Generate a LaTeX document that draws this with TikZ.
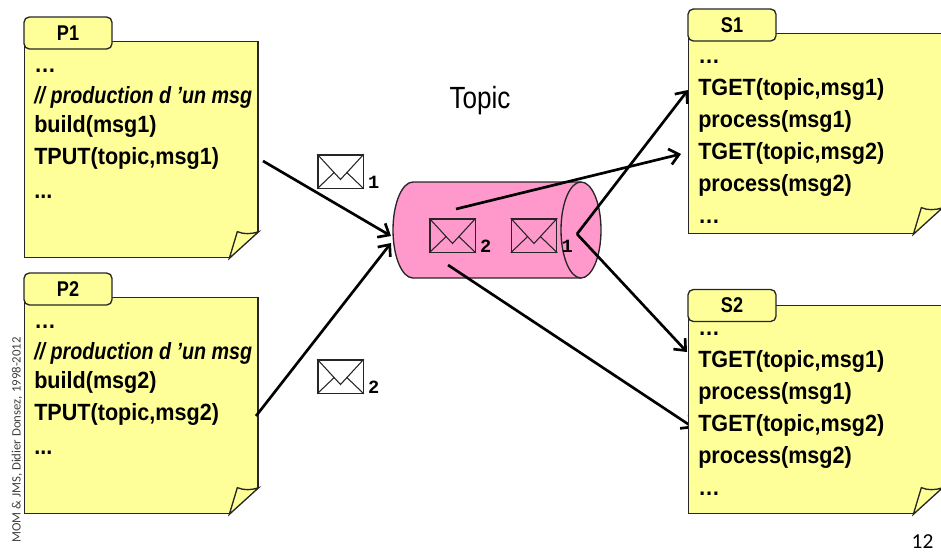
\documentclass[tikz,border=0pt]{standalone}
\usepackage{fontspec}
\setmainfont{Liberation Sans}
\newfontfamily\notefont[FakeStretch=0.92]{Liberation Sans}
\newfontfamily\commentfont[FakeStretch=0.84]{Liberation Sans}
\newfontfamily\headfont[FakeStretch=0.85]{Liberation Sans}
\newfontfamily\labelfont{Liberation Mono}
\newfontfamily\creditfont{Carlito}
\usetikzlibrary{positioning,arrows.meta}

\definecolor{noteyellow}{RGB}{255,255,153}
\definecolor{topicpink}{RGB}{255,153,204}

\tikzset{
  note/.style={draw=black!85,fill=noteyellow,line width=1pt,minimum width=175pt,minimum height=162pt,inner sep=0pt,anchor=north west},
  tab/.style={draw=black!85,fill=noteyellow,line width=1pt,rounded corners=4pt,minimum width=66pt,minimum height=24pt,inner sep=0pt,font=\headfont\fontsize{16}{18}\selectfont\bfseries},
  code/.style={align=left,inner sep=0pt,anchor=north west,font=\notefont\fontsize{17.6}{24}\selectfont\bfseries},
  env/.style={draw=black!85,line width=1pt,minimum width=34pt,minimum height=25pt,inner sep=0pt},
  num/.style={font=\labelfont\bfseries\fontsize{14}{15}\selectfont,inner sep=0pt},
  msg/.style={-{Straight Barb[length=7pt,width=12pt]},line width=2pt},
}

% note corner
\newcommand{\fold}[1]{
  \fill[white] (#1.south east) ++(0.5pt,20pt) -- ++(0,-20.5pt) -- ++(-23pt,0) -- cycle;
  \draw[fill=noteyellow,line width=1pt,draw=black!85] (#1.south east) ++(0,20pt) .. controls +(-6pt,-2pt) and +(5pt,-2pt) .. ++(-16pt,0pt) -- ++(-6pt,-20pt) -- cycle;
}
% envelope flaps
\newcommand{\flaps}[1]{
  \draw[line width=0.8pt,draw=black!85] (#1.north west) -- ([yshift=-19pt]#1.north) -- (#1.north east)
    (#1.south west) -- ([xshift=-5pt,yshift=-14pt]#1.north) (#1.south east) -- ([xshift=5pt,yshift=-14pt]#1.north);
}

\begin{document}
\begin{tikzpicture}[x=0.75pt,y=-0.75pt]
\useasboundingbox (0,0) rectangle (941,553);

% arrow ends
\coordinate (p1out) at (263,161);
\coordinate (p2out) at (256,416);
\coordinate (in1) at (391,236);
\coordinate (in2) at (391,243);
\coordinate (out1) at (577,234);
\coordinate (out2) at (456,209);
\coordinate (out3) at (448,265);
\coordinate (s1in1) at (688,90);
\coordinate (s1in2) at (681,154);
\coordinate (s2in1) at (687,352);
\coordinate (s2in2) at (694,428);

% topic
\draw[draw=black!85,fill=topicpink,line width=1pt] (581,182) -- (413,182) arc[start angle=-90,end angle=-270,x radius=20,y radius=48] -- (581,278);
\draw[draw=black!85,fill=topicpink,line width=1pt] (581,230) ellipse[x radius=20,y radius=48];
\node[font=\headfont\fontsize{23}{25}\selectfont] (topic) at (480,101) {Topic};

\path[msg] (out3) edge (s2in2);

% producers
\node[note] (p1) at (24,41) {};
\fold{p1}
\node[tab] (p1tab) at (68,33) {P1};
\node[code] (p1code) at (34,69) {…\\[-1pt]{\commentfont\itshape // production d ’un msg}\\[-2pt]build(msg1)\\TPUT(topic,msg1)\\[1.5pt]...};

\node[note] (p2) at (24,297) {};
\fold{p2}
\node[tab] (p2tab) at (68,289) {P2};
\node[code] (p2code) at (34,325) {…\\[-1pt]{\commentfont\itshape // production d ’un msg}\\[-2pt]build(msg2)\\TPUT(topic,msg2)\\[1.5pt]...};

% consumers
\node[note,minimum width=190pt,minimum height=150pt] (s1) at (688,33) {};
\fold{s1}
\node[tab] (s1tab) at (732,25) {S1};
\node[code] (s1code) at (698,60) {…\\TGET(topic,msg1)\\process(msg1)\\TGET(topic,msg2)\\process(msg2)\\…};

\node[note,minimum width=190pt,minimum height=156pt] (s2) at (688,305) {};
\fold{s2}
\node[tab] (s2tab) at (732,305.5) {S2};
\node[code] (s2code) at (698,332) {…\\TGET(topic,msg1)\\process(msg1)\\TGET(topic,msg2)\\process(msg2)\\…};

% messages
\node[env] (m1) at (340.5,171.5) {};
\flaps{m1}
\node[num,right=3pt of m1.south east,anchor=south west] (m1num) {1};
\node[env] (m2) at (340.5,376.5) {};
\flaps{m2}
\node[num,right=3pt of m2.south east,anchor=south west] (m2num) {2};
\node[env] (t2) at (452.5,235.5) {};
\flaps{t2}
\node[num,right=3pt of t2.south east,anchor=south west] (t2num) {2};
\node[env] (t1) at (534,235.5) {};
\flaps{t1}
\node[num,right=3pt of t1.south east,anchor=south west] (t1num) {1};

\path[msg]
(p1out) edge (in1)
(p2out) edge (in2)
(out2) edge (s1in2)
(out1) edge (s1in1)
(out1) edge (s2in1)
; %end path

\node[rotate=90,anchor=west,text=black!75,font=\creditfont\fontsize{9.6}{10}\selectfont,inner sep=0pt] (credit) at (17,543) {MOM \& JMS, Didier Donsez, 1998-2012};
\node[font=\creditfont\fontsize{16}{17}\selectfont,inner sep=0pt] (page) at (922.5,542) {12};
\end{tikzpicture}
\end{document}
